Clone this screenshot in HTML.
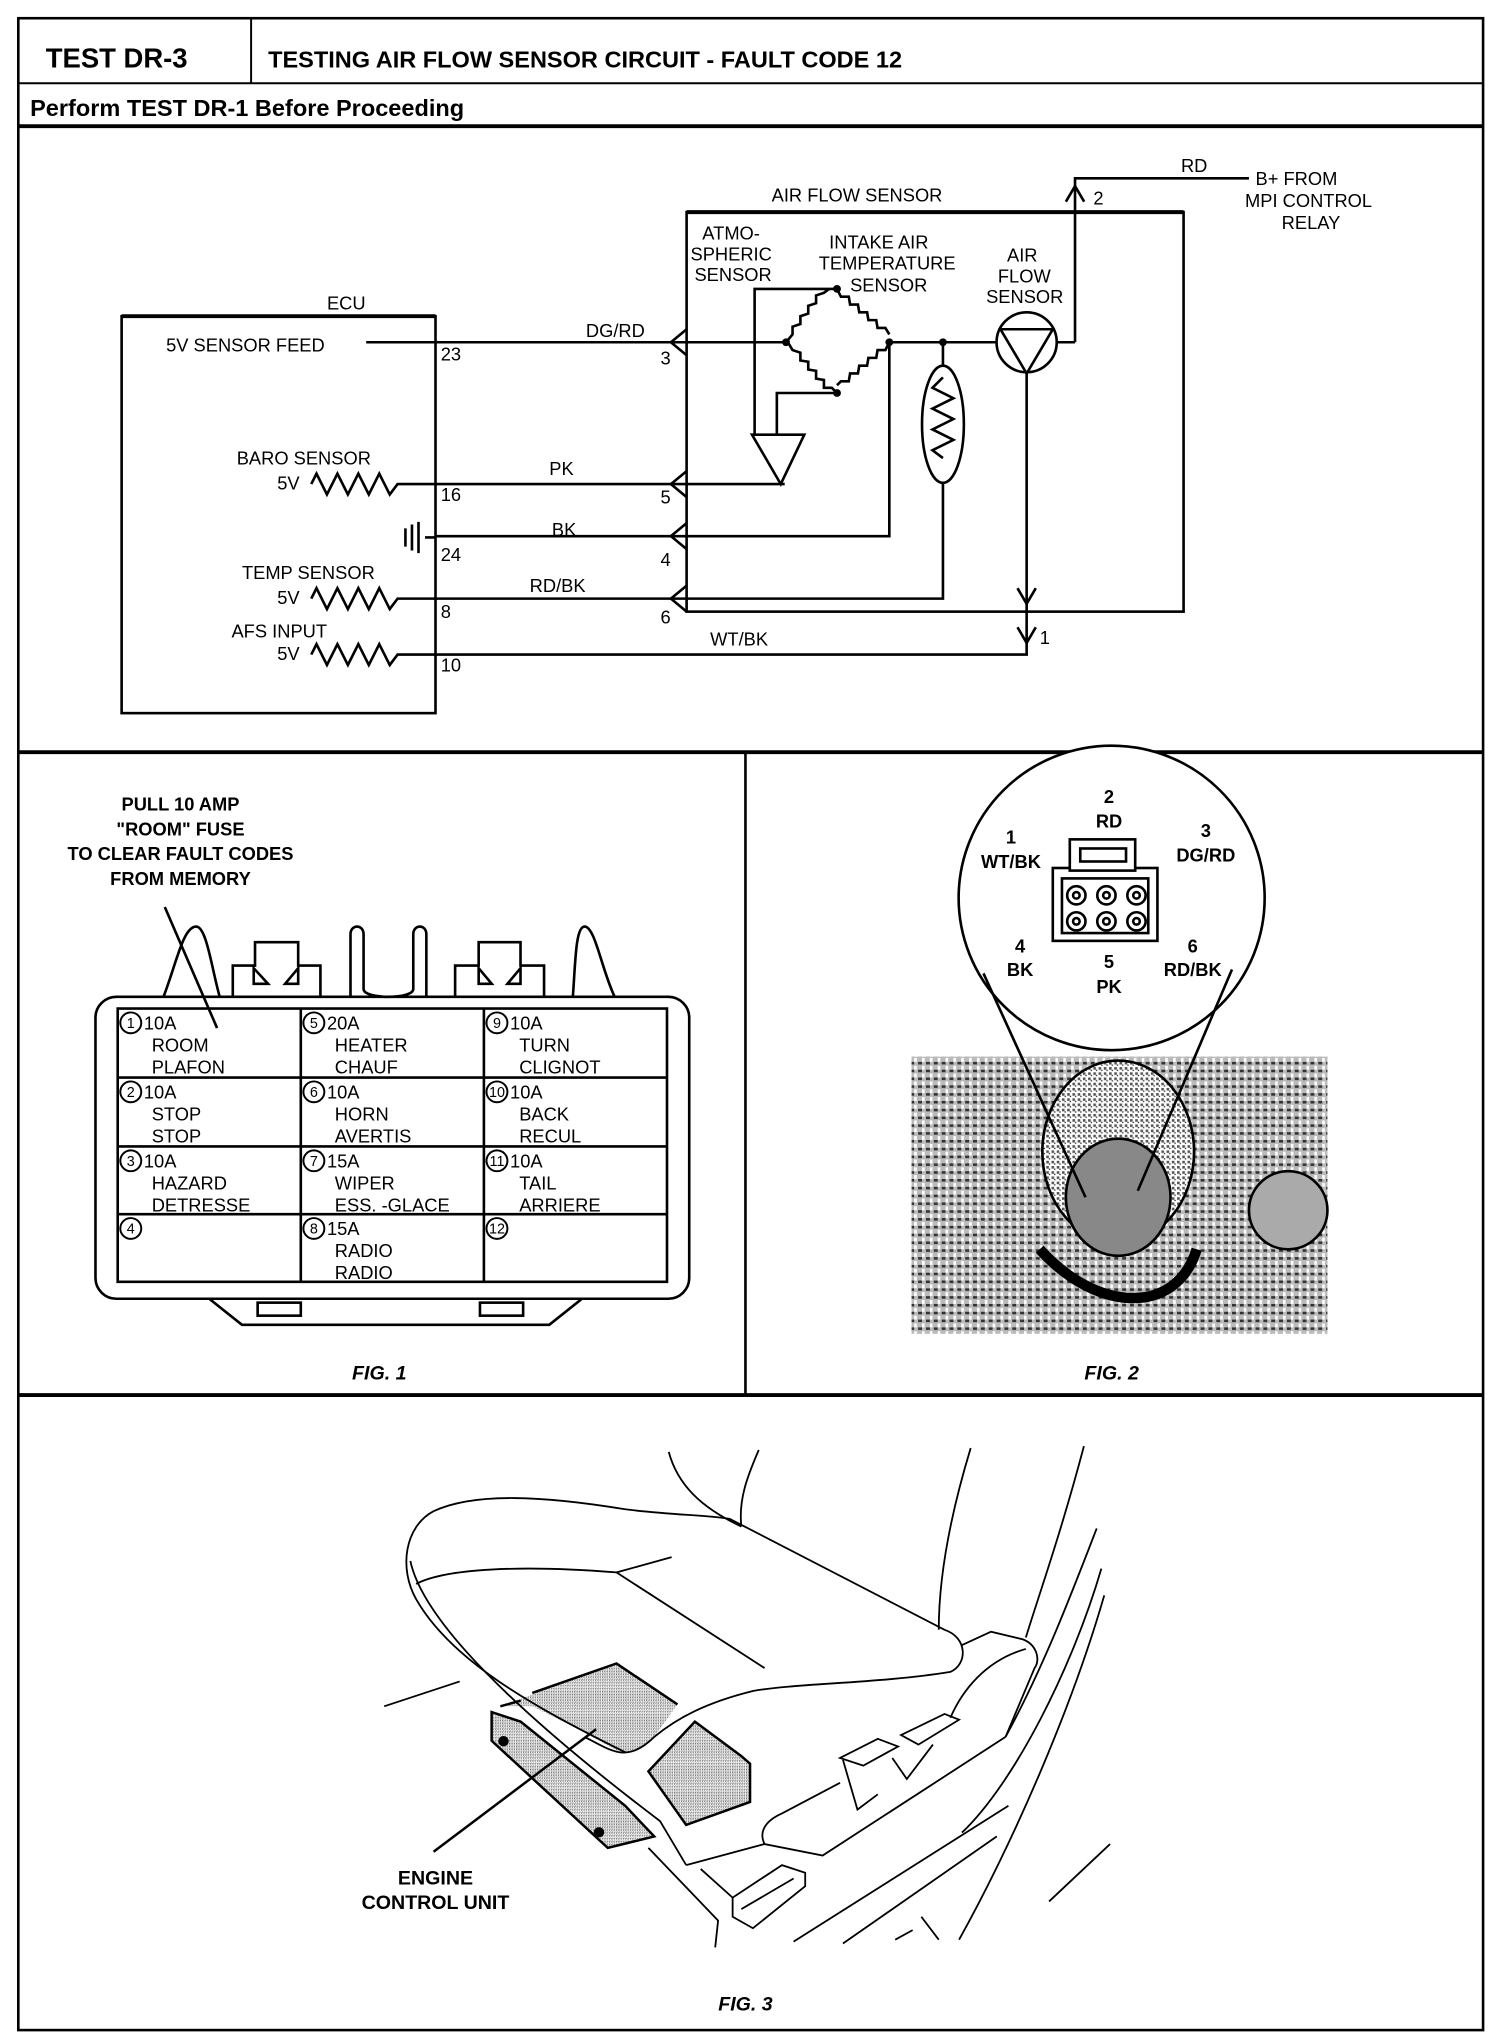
<!DOCTYPE html>
<html><head><meta charset="utf-8"><style>
html,body{margin:0;padding:0;background:#fff;}
svg{display:block;}
.t{font-family:"Liberation Sans Narrow","Liberation Sans",sans-serif;font-size:14px;fill:#000;}
.b{font-family:"Liberation Sans",sans-serif;font-weight:bold;fill:#000;}
.f3 path{vector-effect:non-scaling-stroke;}
</style></head><body>
<svg width="1504" height="2034" viewBox="0 0 1150 1563" preserveAspectRatio="none" xmlns="http://www.w3.org/2000/svg">
<defs>
<pattern id="st" width="4" height="4" patternUnits="userSpaceOnUse"><rect width="4" height="4" fill="#fff"/><rect x="0" y="0" width="2" height="2" fill="#555"/><rect x="2" y="2" width="1" height="1" fill="#222"/></pattern>
<pattern id="ph" width="6" height="6" patternUnits="userSpaceOnUse"><rect width="6" height="6" fill="#bbb"/><rect x="0" y="0" width="3" height="2" fill="#333"/><rect x="3" y="3" width="2" height="3" fill="#fff"/></pattern>
</defs>
<g fill="none" stroke="#000" stroke-width="2">
<rect x="14" y="14" width="1120" height="1546"/>
<line x1="14" y1="64" x2="1134" y2="64" stroke-width="1.5"/>
<line x1="192" y1="14" x2="192" y2="64" stroke-width="1.5"/>
<line x1="14" y1="97" x2="1134" y2="97" stroke-width="3"/>
<line x1="14" y1="578" x2="1134" y2="578" stroke-width="3"/>
<line x1="570" y1="578" x2="570" y2="1072"/>
<line x1="14" y1="1072" x2="1134" y2="1072" stroke-width="3"/>
</g>
<text class="b" x="35" y="52" font-size="21">TEST DR-3</text>
<text class="b" x="205" y="52" font-size="18">TESTING AIR FLOW SENSOR CIRCUIT - FAULT CODE 12</text>
<text class="b" x="23" y="89" font-size="18">Perform TEST DR-1 Before Proceeding</text>

<!-- circuit -->
<g fill="none" stroke="#000" stroke-width="2">
<rect x="93" y="243" width="240" height="305"/>
<line x1="93" y1="243" x2="333" y2="243" stroke-width="3"/>
<rect x="525" y="163" width="380" height="307"/>
<line x1="525" y1="163" x2="905" y2="163" stroke-width="3"/>
<line x1="280" y1="263" x2="601" y2="263"/>
<path d="M822 263 V137 H955"/>
<path d="M815 155 L822 143 L829 155"/>
<path d="M808 263 H822"/>
<path d="M601 263 l5 -6 l0 -6 l6 -2 l0 -6 l6 -2 l0 -6 l6 -2 l0 -6 l6 -2 l4 -3 M640 222 l3 6 l6 0 l1 6 l6 0 l1 6 l6 0 l1 6 l6 0 l1 6 l6 0 l3 5 M680 263 l-3 6 l-6 0 l-1 6 l-6 0 l-1 6 l-6 0 l-1 6 l-6 0 l-1 6 l-6 0 l-3 3 M640 302 l-4 -4 l-6 0 l0 -6 l-6 -1 l0 -6 l-6 -1 l0 -6 l-6 -1 l0 -6 l-6 -2 l-3 -5"/>
<path d="M640 222 H577 V334"/>
<path d="M640 302 H594 V334"/>
<path d="M575 334 H615 L597 372 Z"/>
<path d="M333 372 H600"/>
<path d="M680 263 V412 H333"/>
<path d="M680 263 H762"/>
<ellipse cx="721" cy="326" rx="16" ry="45"/>
<path d="M721 263 V281 M721 371 V460 H333"/>
<path d="M721 290 l-8 8 l16 8 l-16 8 l16 8 l-16 8 l16 8 l-16 8 l8 6"/>
<circle cx="785" cy="263" r="23"/>
<path d="M765 253 H805 L785 287 Z"/>
<path d="M785 286 V503 H333"/>
<path d="M778 452 L785 464 L792 452 M778 482 L785 494 L792 482"/>
<path d="M310 406 V420 M315 403 V423 M320 401 V425 M325 413 H333"/>
<path d="M238 372 l4 -8 l8 16 l8 -16 l8 16 l8 -16 l8 16 l8 -16 l8 16 l6 -8 H333"/>
<path d="M238 460 l4 -8 l8 16 l8 -16 l8 16 l8 -16 l8 16 l8 -16 l8 16 l6 -8 H333"/>
<path d="M238 503 l4 -8 l8 16 l8 -16 l8 16 l8 -16 l8 16 l8 -16 l8 16 l6 -8 H333"/>
<path d="M525 253 L513 263 L525 273"/>
<path d="M525 362 L513 372 L525 382"/>
<path d="M525 402 L513 412 L525 422"/>
<path d="M525 450 L513 460 L525 470"/>
</g>
<g fill="#000"><circle cx="601" cy="263" r="3"/><circle cx="640" cy="222" r="3"/><circle cx="680" cy="263" r="3"/><circle cx="640" cy="302" r="3"/><circle cx="721" cy="263" r="3"/></g>
<g class="t">
<text x="250" y="238">ECU</text>
<text x="127" y="270">5V SENSOR FEED</text>
<text x="337" y="277">23</text>
<text x="448" y="259">DG/RD</text>
<text x="505" y="280">3</text>
<text x="590" y="155">AIR FLOW SENSOR</text>
<text x="903" y="132">RD</text>
<text x="960" y="142">B+ FROM</text>
<text x="952" y="159">MPI CONTROL</text>
<text x="980" y="176">RELAY</text>
<text x="836" y="157">2</text>
<text x="537" y="184">ATMO-</text>
<text x="528" y="200">SPHERIC</text>
<text x="531" y="216">SENSOR</text>
<text x="634" y="191">INTAKE AIR</text>
<text x="626" y="207">TEMPERATURE</text>
<text x="650" y="224">SENSOR</text>
<text x="770" y="201">AIR</text>
<text x="763" y="217">FLOW</text>
<text x="754" y="233">SENSOR</text>
<text x="181" y="357">BARO SENSOR</text>
<text x="212" y="376">5V</text>
<text x="420" y="365">PK</text>
<text x="337" y="385">16</text>
<text x="505" y="387">5</text>
<text x="422" y="412">BK</text>
<text x="337" y="431">24</text>
<text x="505" y="435">4</text>
<text x="185" y="445">TEMP SENSOR</text>
<text x="212" y="464">5V</text>
<text x="405" y="455">RD/BK</text>
<text x="337" y="475">8</text>
<text x="505" y="479">6</text>
<text x="177" y="490">AFS INPUT</text>
<text x="212" y="507">5V</text>
<text x="543" y="496">WT/BK</text>
<text x="337" y="516">10</text>
<text x="795" y="495">1</text>
</g>

<!-- FIG 1 -->
<g class="b" font-size="14" text-anchor="middle">
<text x="138" y="623">PULL 10 AMP</text>
<text x="138" y="642">"ROOM" FUSE</text>
<text x="138" y="661">TO CLEAR FAULT CODES</text>
<text x="138" y="680">FROM MEMORY</text>
</g>
<g fill="none" stroke="#000" stroke-width="2">
<line x1="126" y1="697" x2="166" y2="790"/>
<rect x="73" y="766" width="454" height="232" rx="16"/>
<rect x="90" y="775" width="420" height="210"/>
<line x1="230" y1="775" x2="230" y2="985"/><line x1="370" y1="775" x2="370" y2="985"/>
<line x1="90" y1="828" x2="510" y2="828"/><line x1="90" y1="881" x2="510" y2="881"/><line x1="90" y1="933" x2="510" y2="933"/>
<path d="M160 998 L185 1018 H420 L445 998"/>
<rect x="197" y="1001" width="33" height="10"/><rect x="367" y="1001" width="33" height="10"/>
<path d="M125 766 C135 740 140 712 150 712 C158 712 162 745 168 766"/>
<path d="M178 766 V742 H195 V724 H228 V742 H245 V766 M194 744 V756 L205 756 Z M228 744 V756 L218 756 Z"/>
<path d="M268 766 V718 C268 710 278 710 278 718 V760 C278 768 316 768 316 760 V718 C316 710 326 710 326 718 V766"/>
<path d="M348 766 V742 H366 V724 H398 V742 H416 V766 M366 744 V756 L376 756 Z M398 744 V756 L388 756 Z"/>
<path d="M438 766 C440 740 440 712 447 712 C455 712 460 745 470 766"/>
</g>
<g class="t" font-size="14">
<g fill="none" stroke="#000" stroke-width="1.5"><circle cx="100" cy="786" r="8"/><circle cx="240" cy="786" r="8"/><circle cx="380" cy="786" r="8"/><circle cx="100" cy="839" r="8"/><circle cx="240" cy="839" r="8"/><circle cx="380" cy="839" r="8"/><circle cx="100" cy="892" r="8"/><circle cx="240" cy="892" r="8"/><circle cx="380" cy="892" r="8"/><circle cx="100" cy="944" r="8"/><circle cx="240" cy="944" r="8"/><circle cx="380" cy="944" r="8"/></g>
<g font-size="11" text-anchor="middle"><text x="100" y="790">1</text><text x="240" y="790">5</text><text x="380" y="790">9</text><text x="100" y="843">2</text><text x="240" y="843">6</text><text x="380" y="843">10</text><text x="100" y="896">3</text><text x="240" y="896">7</text><text x="380" y="896">11</text><text x="100" y="948">4</text><text x="240" y="948">8</text><text x="380" y="948">12</text></g>
<text x="110" y="791">10A</text><text x="116" y="808">ROOM</text><text x="116" y="825">PLAFON</text>
<text x="250" y="791">20A</text><text x="256" y="808">HEATER</text><text x="256" y="825">CHAUF</text>
<text x="390" y="791">10A</text><text x="397" y="808">TURN</text><text x="397" y="825">CLIGNOT</text>
<text x="110" y="844">10A</text><text x="116" y="861">STOP</text><text x="116" y="878">STOP</text>
<text x="250" y="844">10A</text><text x="256" y="861">HORN</text><text x="256" y="878">AVERTIS</text>
<text x="390" y="844">10A</text><text x="397" y="861">BACK</text><text x="397" y="878">RECUL</text>
<text x="110" y="897">10A</text><text x="116" y="914">HAZARD</text><text x="116" y="931">DETRESSE</text>
<text x="250" y="897">15A</text><text x="256" y="914">WIPER</text><text x="256" y="931">ESS. -GLACE</text>
<text x="390" y="897">10A</text><text x="397" y="914">TAIL</text><text x="397" y="931">ARRIERE</text>
<text x="250" y="949">15A</text><text x="256" y="966">RADIO</text><text x="256" y="983">RADIO</text>
</g>
<text class="b" x="290" y="1060" font-size="15" font-style="italic" text-anchor="middle">FIG. 1</text>

<!-- FIG 2 -->
<rect x="697" y="812" width="318" height="213" fill="url(#ph)"/>
<g fill="#fff" stroke="#000" stroke-width="2">
<ellipse cx="855" cy="885" rx="58" ry="70" fill="url(#st)"/>
<ellipse cx="855" cy="920" rx="40" ry="45" fill="#888"/>
<circle cx="985" cy="930" r="30" fill="#aaa"/>
<path d="M795 960 C840 1010 900 1010 915 960" fill="none" stroke-width="8"/>
</g>
<g fill="none" stroke="#000" stroke-width="2">
<circle cx="850" cy="690" r="117" fill="#fff"/>
<line x1="752" y1="748" x2="830" y2="920"/><line x1="942" y1="745" x2="870" y2="915"/>
<rect x="805" y="667" width="80" height="56"/>
<rect x="818" y="645" width="50" height="24" fill="#fff"/>
<rect x="826" y="652" width="35" height="10"/>
<rect x="812" y="675" width="66" height="42"/>
<circle cx="823" cy="688" r="7"/><circle cx="846" cy="688" r="7"/><circle cx="869" cy="688" r="7"/>
<circle cx="823" cy="708" r="7"/><circle cx="846" cy="708" r="7"/><circle cx="869" cy="708" r="7"/>
<circle cx="823" cy="688" r="2.5"/><circle cx="846" cy="688" r="2.5"/><circle cx="869" cy="688" r="2.5"/>
<circle cx="823" cy="708" r="2.5"/><circle cx="846" cy="708" r="2.5"/><circle cx="869" cy="708" r="2.5"/>
</g>
<g class="b" font-size="14" text-anchor="middle">
<text x="848" y="617">2</text><text x="848" y="636">RD</text>
<text x="922" y="643">3</text><text x="922" y="662">DG/RD</text>
<text x="773" y="648">1</text><text x="773" y="667">WT/BK</text>
<text x="780" y="732">4</text><text x="780" y="750">BK</text>
<text x="848" y="744">5</text><text x="848" y="763">PK</text>
<text x="912" y="732">6</text><text x="912" y="750">RD/BK</text>
</g>
<text class="b" x="850" y="1060" font-size="15" font-style="italic" text-anchor="middle">FIG. 2</text>

<!-- FIG 3 (drawn in zoom coordinates) -->
<g class="f3" transform="matrix(0.444 0 0 0.294 229.4 1076)">
<g stroke="#000" stroke-width="2.5" fill="url(#st)">
<path d="M345 800 L545 688 L650 795 L610 880 C590 915 570 925 545 915 L480 860 L400 800 Z" stroke-width="0"/>
<path d="M400 765 L545 688 L650 795"/>
<path d="M345 800 L380 785"/>
<path d="M330 815 L330 890 L530 1170 L610 1140 L560 1060 L380 840 Z"/>
<path d="M680 840 L760 930 L775 950 L775 1050 L665 1110 L600 970 Z"/>
</g>
<g fill="none" stroke="#000" stroke-width="1.8">
<path d="M635 135 C650 220 690 280 760 330"/>
<path d="M790 130 C770 200 755 260 760 330"/>
<path d="M230 290 C300 240 420 250 560 285 C640 300 700 300 740 310 L1110 600 C1150 620 1150 690 1120 710 C1000 740 850 740 780 760 C700 790 650 830 610 880 C590 910 570 925 550 920 C530 915 510 895 490 880"/>
<path d="M230 290 C180 330 170 440 200 520 C260 680 400 800 560 920"/>
<path d="M200 480 C250 440 380 430 545 450 L640 410 M545 450 L800 700"/>
<path d="M190 420 C215 600 420 870 620 1100 L665 1215"/>
<path d="M145 800 L275 735"/>
<path d="M1140 640 L1190 605 L1245 625 C1270 640 1275 680 1265 700 L1215 880"/>
<path d="M1250 650 C1180 680 1140 760 1120 830"/>
<path d="M930 935 L995 885 L1030 905 L970 955 Z M935 940 L960 1070 L995 1030"/>
<path d="M1035 875 L1110 820 L1135 835 L1065 900 Z M1020 935 L1045 990 L1090 900"/>
<path d="M665 1215 L800 1160 L900 1190 L1215 880"/>
<path d="M800 1160 C790 1130 800 1100 830 1080 L930 1000"/>
<path d="M600 1170 L720 1360 L715 1430"/>
<path d="M690 1225 L745 1300"/>
<path d="M745 1300 L830 1215 L870 1235 L870 1270 L780 1380 L745 1350 Z M760 1330 L850 1250"/>
<path d="M850 1415 L1220 1060 M935 1420 L1200 1140 M1025 1410 L1055 1385 M1070 1350 L1100 1410 M1290 1310 L1395 1160"/>
<path d="M1155 125 C1130 250 1100 430 1100 600"/>
<path d="M1350 120 C1310 350 1270 520 1250 620"/>
<path d="M1372 335 C1330 500 1280 700 1215 880"/>
<path d="M1380 440 C1330 700 1230 1000 1140 1130"/>
<path d="M1385 510 C1330 800 1230 1150 1135 1410"/>
<path d="M510 860 L230 1180" stroke-width="2.5"/>
</g>
</g>
<circle cx="385" cy="1338" r="4" fill="#000"/><circle cx="458" cy="1408" r="4" fill="#000"/>
<g class="b" font-size="15" text-anchor="middle">
<text x="333" y="1448">ENGINE</text>
<text x="333" y="1467">CONTROL UNIT</text>
</g>
<text class="b" x="570" y="1545" font-size="15" font-style="italic" text-anchor="middle">FIG. 3</text>
</svg>
</body></html>
